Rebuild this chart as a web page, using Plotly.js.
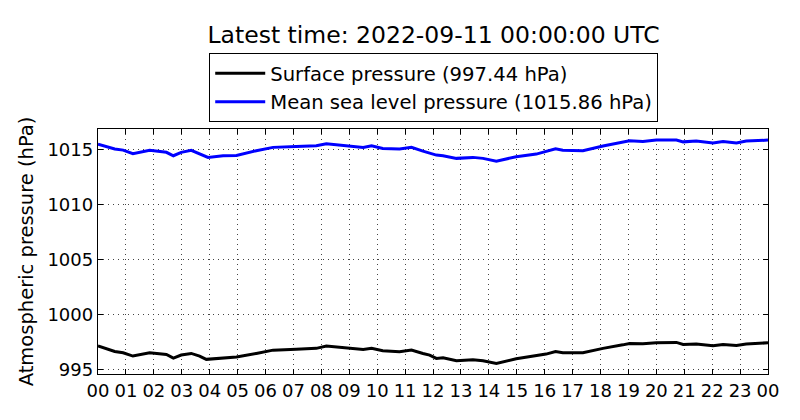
<!DOCTYPE html>
<html>
<head>
<meta charset="utf-8">
<script src="https://cdn.plot.ly/plotly-3.0.1.min.js"></script>
<style>html,body{margin:0;padding:0;background:#fff;}#chart{width:800px;height:420px;}</style>
</head>
<body>
<div id="chart"></div>
<script>
// hours since 2022-09-10 00:00 UTC
var hoursMsl = [0, 0.6, 0.9, 1.25, 1.85, 2.45, 2.7, 2.98, 3.34, 3.64, 3.94, 4.48, 4.96, 5.67, 6.27, 7.1, 7.82, 8.18, 8.78, 9.5, 9.8, 10.2, 10.8, 11.23, 11.64, 11.88, 12.12, 12.36, 12.84, 13.43, 13.79, 14.27, 14.98, 15.7, 16.05, 16.39, 16.65, 17.37, 18.09, 18.8, 19.04, 19.52, 20.0, 20.72, 20.96, 21.43, 22.03, 22.39, 22.87, 23.22, 23.94, 24];
var mslPressure = [1015.5, 1015.05, 1014.95, 1014.62, 1014.93, 1014.75, 1014.44, 1014.75, 1014.93, 1014.62, 1014.29, 1014.44, 1014.47, 1014.9, 1015.2, 1015.29, 1015.35, 1015.53, 1015.41, 1015.2, 1015.35, 1015.1, 1015.05, 1015.2, 1014.86, 1014.65, 1014.5, 1014.44, 1014.2, 1014.29, 1014.2, 1013.95, 1014.35, 1014.59, 1014.8, 1015.07, 1014.93, 1014.9, 1015.32, 1015.65, 1015.8, 1015.74, 1015.86, 1015.86, 1015.7, 1015.77, 1015.59, 1015.74, 1015.59, 1015.77, 1015.84, 1015.86];
var hoursSfc = [0, 0.6, 0.9, 1.25, 1.85, 2.45, 2.7, 2.98, 3.34, 3.64, 3.88, 4.48, 4.96, 5.67, 6.27, 7.1, 7.82, 8.18, 8.78, 9.5, 9.8, 10.2, 10.8, 11.23, 11.64, 11.88, 12.12, 12.36, 12.84, 13.43, 13.79, 14.27, 14.98, 15.7, 16.05, 16.39, 16.65, 17.37, 18.09, 18.8, 19.04, 19.52, 20.0, 20.72, 20.96, 21.43, 22.03, 22.39, 22.87, 23.22, 23.94, 24];
var surfacePressure = [997.16, 996.65, 996.53, 996.23, 996.53, 996.38, 996.05, 996.32, 996.47, 996.23, 995.93, 996.05, 996.14, 996.47, 996.77, 996.86, 996.93, 997.14, 996.98, 996.83, 996.93, 996.71, 996.62, 996.77, 996.47, 996.32, 996.02, 996.08, 995.8, 995.89, 995.8, 995.56, 995.98, 996.25, 996.41, 996.65, 996.53, 996.53, 996.93, 997.25, 997.38, 997.35, 997.44, 997.47, 997.29, 997.32, 997.16, 997.29, 997.2, 997.32, 997.38, 997.44];
var tickHours = [0,1,2,3,4,5,6,7,8,9,10,11,12,13,14,15,16,17,18,19,20,21,22,23,24];
var tickLabels = ["00","01","02","03","04","05","06","07","08","09","10","11","12","13","14","15","16","17","18","19","20","21","22","23","00"];
var yTicks = [995, 1000, 1005, 1010, 1015];
var seriesNames = ["Surface pressure (997.44 hPa)", "Mean sea level pressure (1015.86 hPa)"];
var titleText = "Latest time: 2022-09-11 00:00:00 UTC";
var yTitle = "Atmospheric pressure (hPa)";

var font = "DejaVu Sans, sans-serif";
var traces = [
  {x: hoursSfc, y: surfacePressure, type: "scatter", mode: "lines", name: seriesNames[0],
   line: {color: "#000000", width: 3}},
  {x: hoursMsl, y: mslPressure, type: "scatter", mode: "lines", name: seriesNames[1],
   line: {color: "#0000ff", width: 3}}
];
var axisCommon = {
  showline: true, linecolor: "#000", linewidth: 1.2, mirror: "allticks",
  ticks: "inside", ticklen: 5, tickcolor: "#000",
  showgrid: true, gridcolor: "#444", griddash: "1px,4px", gridwidth: 1,
  zeroline: false, tickfont: {family: font, size: 18, color: "#000"}
};
var layout = {
  width: 800, height: 420,
  margin: {l: 98, r: 32, t: 129, b: 46},
  paper_bgcolor: "#fff", plot_bgcolor: "#fff",
  font: {family: font, color: "#000"},
  title: {text: titleText, font: {family: font, size: 23.5, color: "#000"},
          x: 0.542, xanchor: "center", y: 0.917, yanchor: "middle"},
  showlegend: true,
  legend: {x: 0.166, xanchor: "left", y: 1.31, yanchor: "top",
           bgcolor: "#fff", bordercolor: "#000", borderwidth: 1, itemwidth: 50,
           font: {family: font, size: 19.6, color: "#000"}},
  xaxis: Object.assign({}, axisCommon, {range: [0, 24], tickmode: "array",
           tickvals: tickHours, ticktext: tickLabels}),
  yaxis: Object.assign({}, axisCommon, {range: [994.6, 1016.87], tickmode: "array",
           tickvals: yTicks, ticktext: yTicks.map(String),
           title: {text: yTitle, font: {family: font, size: 19.5, color: "#000"}, standoff: 8}})
};
Plotly.newPlot("chart", traces, layout, {displayModeBar: false, staticPlot: true});
</script>
</body>
</html>
